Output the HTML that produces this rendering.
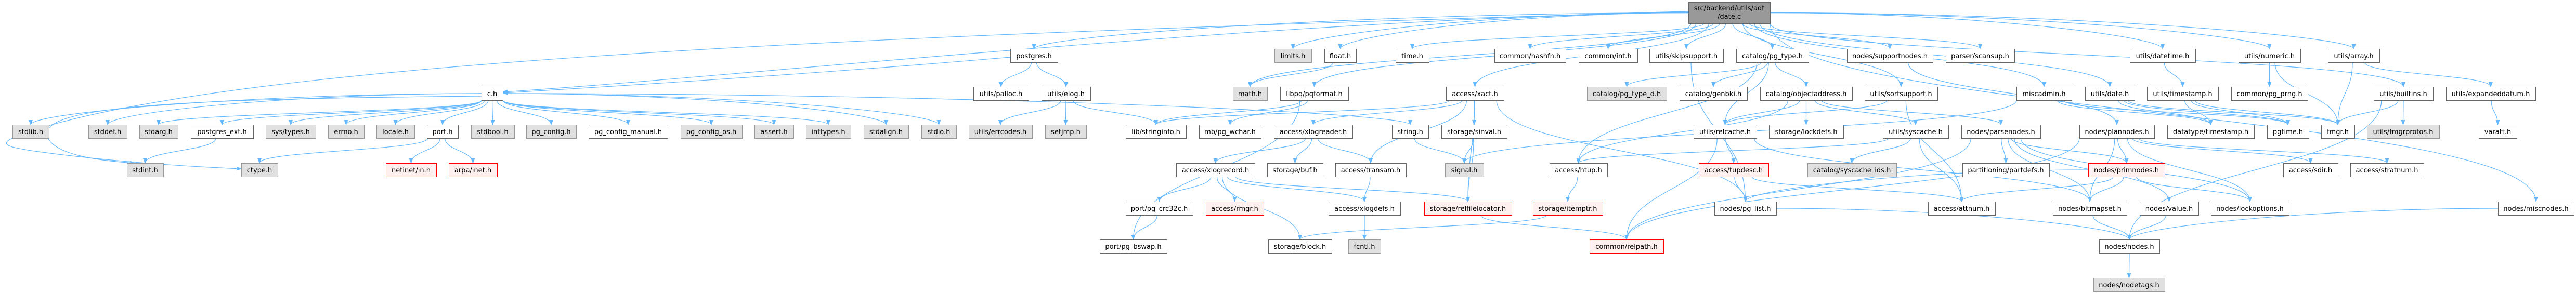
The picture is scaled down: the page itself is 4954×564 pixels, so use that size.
<!DOCTYPE html>
<html><head><meta charset="utf-8"><style>
html,body{margin:0;padding:0;background:#fff;width:4954px;height:564px;overflow:hidden}
svg{display:block}
text{font-family:"DejaVu Sans","Liberation Sans",sans-serif;font-size:13px;fill:#000}
</style></head><body>
<svg id="g" width="4954" height="564" xmlns="http://www.w3.org/2000/svg">
<defs><marker id="a" markerWidth="10" markerHeight="8" refX="9" refY="4" orient="auto" markerUnits="userSpaceOnUse"><path d="M0,0 L10,4 L0,8 z" fill="#63b8ff"/></marker></defs>
<g id="e" fill="none" stroke="#63b8ff" stroke-width="1.2"></g>
<g id="n"></g>
</svg>
<script>
const R={1:94,2:167,3:240,4:314,5:388,6:461,7:535};
const N={
main:[3247,3404,4,'m'],
c:[926,967,2],stdlib:[24,94,3,'g'],stddef:[170,244,3,'g'],stdarg:[268,342,3,'g'],pgext:[367,487,3],systypes:[511,607,3,'g'],errno:[631,700,3,'g'],locale:[724,797,3,'g'],port:[821,881,3],stdbool:[906,989,3,'g'],
stdint:[244,314,4,'g'],ctype:[464,534,4,'g'],netinet:[742,839,4,'r'],arpa:[863,956,4,'r'],
postgres:[1943,2034,1],palloc:[1872,1978,2],pgconfig:[1012,1108,3,'g'],pgcm:[1132,1284,3],pgcos:[1309,1427,3,'g'],assert:[1451,1526,3,'g'],inttypes:[1550,1636,3,'g'],stdalign:[1661,1747,3,'g'],stdio:[1772,1839,3,'g'],errcodes:[1863,1985,3,'g'],
limits:[2451,2522,1,'g'],float:[2547,2608,1],time:[2684,2748,1],hashfn:[2874,3011,1],
elog:[2003,2097,2],math:[2371,2437,2,'g'],pqformat:[2462,2593,2],xact:[2781,2892,2],
setjmp:[2010,2089,3,'g'],stringinfo:[2165,2281,3],pgwchar:[2306,2425,3],xlogreader:[2450,2601,3],string:[2677,2747,3],sinval:[2772,2898,3],
xlogrecord:[2262,2413,4],buf:[2437,2544,4],transam:[2568,2704,4],signal:[2779,2853,4,'g'],htup:[2980,3091,4],
crc:[2165,2294,5],rmgr:[2319,2430,5,'r'],xlogdefs:[2555,2693,5],rfl:[2739,2907,5,'r'],itemptr:[2948,3082,5,'r'],
bswap:[2115,2244,6],block:[2439,2561,6],fcntl:[2593,2655,6,'g'],
int:[3036,3149,1],skip:[3172,3314,1],pgtype:[3339,3478,1],support:[3552,3717,1],scansup:[3742,3874,1],
pgtyped:[3052,3205,2,'g'],genbki:[3230,3360,2],objaddr:[3385,3562,2],sortsup:[3586,3726,2],misc:[3878,3984,2],
relcache:[3257,3378,3],lockdefs:[3402,3545,3],syscache:[3621,3747,3],parsenodes:[3772,3924,3],plannodes:[3999,4143,3],
tupdesc:[3267,3401,4,'r'],scids:[3476,3647,4,'g'],partdefs:[3774,3941,4],
pglist:[3297,3416,5],attnum:[3708,3837,5],bitmapset:[3948,4090,5],
relpath:[3057,3199,6,'r'],
datetime:[4096,4222,1],numeric:[4305,4424,1],array:[4477,4576,1],
date:[4010,4105,2],timestamp:[4129,4266,2],prng:[4291,4438,2],builtins:[4565,4679,2],expanded:[4704,4876,2],
dtts:[4168,4335,3],pgtime:[4360,4440,3],fmgr:[4464,4528,3],fmgrprotos:[4552,4691,3,'g'],varatt:[4767,4840,3],
primnodes:[4016,4163,4,'r'],sdir:[4391,4496,4],stratnum:[4520,4661,4],
value:[4115,4228,5],lockopt:[4252,4402,5],miscnodes:[4804,4950,5],
nodes:[4037,4153,6],nodetags:[4026,4163,7,'g']};
const L={main:'',c:'c.h',stdlib:'stdlib.h',stddef:'stddef.h',stdarg:'stdarg.h',pgext:'postgres_ext.h',systypes:'sys/types.h',errno:'errno.h',locale:'locale.h',port:'port.h',stdbool:'stdbool.h',stdint:'stdint.h',ctype:'ctype.h',netinet:'netinet/in.h',arpa:'arpa/inet.h',postgres:'postgres.h',palloc:'utils/palloc.h',pgconfig:'pg_config.h',pgcm:'pg_config_manual.h',pgcos:'pg_config_os.h',assert:'assert.h',inttypes:'inttypes.h',stdalign:'stdalign.h',stdio:'stdio.h',errcodes:'utils/errcodes.h',limits:'limits.h',float:'float.h',time:'time.h',hashfn:'common/hashfn.h',elog:'utils/elog.h',math:'math.h',pqformat:'libpq/pqformat.h',xact:'access/xact.h',setjmp:'setjmp.h',stringinfo:'lib/stringinfo.h',pgwchar:'mb/pg_wchar.h',xlogreader:'access/xlogreader.h',string:'string.h',sinval:'storage/sinval.h',xlogrecord:'access/xlogrecord.h',buf:'storage/buf.h',transam:'access/transam.h',signal:'signal.h',htup:'access/htup.h',crc:'port/pg_crc32c.h',rmgr:'access/rmgr.h',xlogdefs:'access/xlogdefs.h',rfl:'storage/relfilelocator.h',itemptr:'storage/itemptr.h',bswap:'port/pg_bswap.h',block:'storage/block.h',fcntl:'fcntl.h',int:'common/int.h',skip:'utils/skipsupport.h',pgtype:'catalog/pg_type.h',support:'nodes/supportnodes.h',scansup:'parser/scansup.h',pgtyped:'catalog/pg_type_d.h',genbki:'catalog/genbki.h',objaddr:'catalog/objectaddress.h',sortsup:'utils/sortsupport.h',misc:'miscadmin.h',relcache:'utils/relcache.h',lockdefs:'storage/lockdefs.h',syscache:'utils/syscache.h',parsenodes:'nodes/parsenodes.h',plannodes:'nodes/plannodes.h',tupdesc:'access/tupdesc.h',scids:'catalog/syscache_ids.h',partdefs:'partitioning/partdefs.h',pglist:'nodes/pg_list.h',attnum:'access/attnum.h',bitmapset:'nodes/bitmapset.h',relpath:'common/relpath.h',datetime:'utils/datetime.h',numeric:'utils/numeric.h',array:'utils/array.h',date:'utils/date.h',timestamp:'utils/timestamp.h',prng:'common/pg_prng.h',builtins:'utils/builtins.h',expanded:'utils/expandeddatum.h',dtts:'datatype/timestamp.h',pgtime:'pgtime.h',fmgr:'fmgr.h',fmgrprotos:'utils/fmgrprotos.h',varatt:'varatt.h',primnodes:'nodes/primnodes.h',sdir:'access/sdir.h',stratnum:'access/stratnum.h',value:'nodes/value.h',lockopt:'nodes/lockoptions.h',miscnodes:'nodes/miscnodes.h',nodes:'nodes/nodes.h',nodetags:'nodes/nodetags.h'};
const E=`main:postgres,limits,float,math,time,xact,hashfn,int,skip,pgtype,pqformat,support,scansup,sortsup,misc,array,builtins,date,datetime,numeric,miscnodes,c
postgres:c,palloc,elog
c:stdlib,stddef,stdarg,pgext,systypes,errno,locale,port,stdbool,stdint,pgconfig,pgcm,pgcos,assert,inttypes,stdalign,stdio,string
elog:errcodes,setjmp,stringinfo
pgext:stdint
port:ctype,netinet,arpa
float:math
pqformat:stringinfo,pgwchar,bswap
xact:xlogreader,stringinfo,transam,sinval,rfl,pglist
xlogreader:xlogrecord,buf,transam
xlogrecord:crc,rmgr,block,xlogdefs,rfl
crc:bswap
transam:xlogdefs
xlogdefs:fcntl
string:signal
sinval:signal,rfl
rfl:relpath
itemptr:block
htup:itemptr
pgtype:pgtyped,genbki,objaddr,relcache,htup
skip:pglist
objaddr:relcache,lockdefs,syscache,parsenodes,htup
sortsup:relcache,attnum
misc:signal,dtts,pgtime
relcache:tupdesc,relpath,bitmapset
syscache:scids,attnum,htup
parsenodes:partdefs,bitmapset,lockopt,value,primnodes,relpath
tupdesc:pglist,attnum
pglist:nodes
support:plannodes
plannodes:primnodes,sdir,stratnum,bitmapset,lockopt,relpath
primnodes:bitmapset,lockopt,attnum,pglist
bitmapset:nodes
value:nodes
miscnodes:nodes
builtins:nodes,fmgr,fmgrprotos
nodes:nodetags
datetime:timestamp
date:dtts,pgtime,fmgr
timestamp:dtts,pgtime,fmgr
numeric:prng,fmgr
array:fmgr,expanded
expanded:varatt`;
const ns='http://www.w3.org/2000/svg';
function box(k){const v=N[k];const y=k==='main'?4:R[v[2]];const h=k==='main'?41:26;return{x1:v[0],x2:v[1],y1:y,y2:y+h,cx:(v[0]+v[1])/2};}
const eg=document.getElementById('e'),ng=document.getElementById('n');
function P(d){const p=document.createElementNS(ns,'path');p.setAttribute('d',d);p.setAttribute('marker-end','url(#a)');eg.appendChild(p);}
E.split('\n').forEach(line=>{const [s,ts]=line.split(':');ts.split(',').forEach(t=>{
 const a=box(s),b=box(t);
 if(s==='main'&&t==='c'){P(`M${a.x1},${a.y1+18} C2400,40 1400,150 ${b.x2},${b.y1+10}`);return;}
 if(s==='postgres'&&t==='c'){P(`M${a.x1},${a.y1+16} C1600,140 1200,165 ${b.x2},${b.y1+12}`);return;}
 if(s==='c'&&(t==='stdint')){P(`M${a.x1},${a.y1+18} C400,190 80,200 90,260 C100,300 200,310 ${b.cx-20},${b.y1}`);return;}
 let sx=a.cx+(b.cx-a.cx)*0.08, sy=a.y2;
 if(sx<a.x1)sx=a.x1; if(sx>a.x2)sx=a.x2;
 const dy=b.y1-sy;
 if(Math.abs(b.cx-a.cx)>700 && dy<120){
   // mostly horizontal long edge: go from side
   const fromRight=b.cx>a.cx;
   const x0=fromRight?a.x2:a.x1, y0=(a.y1+a.y2)/2;
   P(`M${x0},${y0} C${x0+(b.cx-x0)*0.5},${y0} ${b.cx},${b.y1-dy*0.5} ${b.cx},${b.y1}`);return;}
 P(`M${sx},${sy} C${sx},${sy+dy*0.5} ${b.cx},${b.y1-dy*0.5} ${b.cx},${b.y1}`);
});});
// main -> ctype long loop
P(`M3247,22 C2000,60 600,100 100,240 C-20,275 0,280 60,290 C200,310 350,320 464,325`);
for(const k in N){const v=N[k],b=box(k);const r=document.createElementNS(ns,'rect');
 r.setAttribute('x',b.x1+.5);r.setAttribute('y',b.y1+.5);r.setAttribute('width',b.x2-b.x1);r.setAttribute('height',b.y2-b.y1);
 const t=v[3];r.setAttribute('fill',t==='m'?'#999999':t==='g'?'#e0e0e0':t==='r'?'#fff0f0':'#ffffff');
 r.setAttribute('stroke',t==='r'?'#ff0000':t==='g'?'#999999':'#666666');r.setAttribute('stroke-width','1');ng.appendChild(r);
 if(k==='main'){[['src/backend/utils/adt',20],['/date.c',36]].forEach(([s,y])=>{const tx=document.createElementNS(ns,'text');tx.setAttribute('x',b.cx);tx.setAttribute('y',y);tx.setAttribute('text-anchor','middle');tx.textContent=s;ng.appendChild(tx);});}
 else{const tx=document.createElementNS(ns,'text');tx.setAttribute('x',b.cx);tx.setAttribute('y',b.y1+18);tx.setAttribute('text-anchor','middle');tx.textContent=L[k];ng.appendChild(tx);}
}
</script>
</body></html>
